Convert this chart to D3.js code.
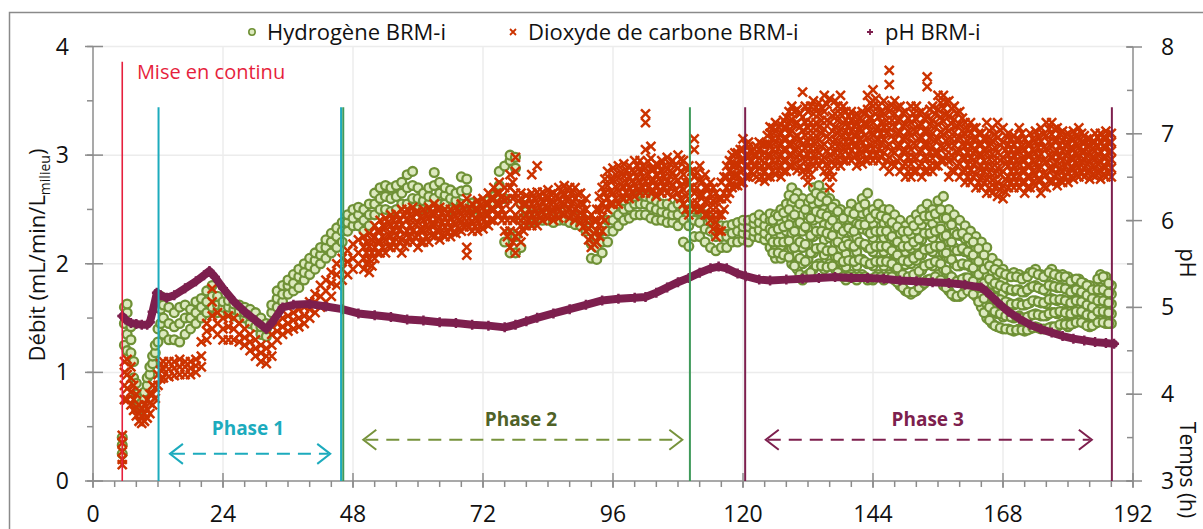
<!DOCTYPE html>
<html><head><meta charset="utf-8">
<script src="https://cdn.jsdelivr.net/npm/d3@7"></script>
<style>
body{margin:0;background:#fff}
svg{display:block}
text{font-family:"Open Sans",sans-serif}
</style>
</head><body>
<svg id="chart" width="1203" height="529"></svg>
<script>
// ---------- DATA ----------
const xTickValues = [0,24,48,72,96,120,144,168,192];
const yLeftTickValues = [0,1,2,3,4];
const yRightTickValues = [3,4,5,6,7,8];
const seriesNames = ["Hydrogène BRM-i","Dioxyde de carbone BRM-i","pH BRM-i"];
const leftTitle = "Débit (mL/min/L";
const leftTitleSub = "milieu";
const rightTitle = "pH";
const xTitle = "Temps (h)";

// [time (h), flow values read at that time ...]
const h2Rows = [
[5.4,0.25,0.33,0.4],[5.8,1.25,1.45,1.6],[6.3,1.2,1.35,1.55,1.63],[7,1.18,1.3,1.42],[7.5,0.95,1.1],
[8,0.8,0.9],[8.5,0.7,0.76],[9,0.66,0.72],[9.5,0.76,0.82],[10,0.88,0.95],[10.5,0.98,1.05],[11,1.08,1.15],
[11.5,1.18,1.25],[12,1.28,1.4],[12.5,1.45,1.58,1.7],[13,1.35,1.5,1.62],[14,1.3,1.45,1.6],[15,1.3,1.42,1.55],
[16,1.28,1.45,1.6],[17,1.35,1.5,1.62],[18,1.4,1.5,1.58],[19,1.45,1.55,1.65],[20,1.5,1.6,1.68],[21,1.55,1.65,1.75],
[22,1.6,1.7,1.8],[23,1.55,1.62,1.7],[24,1.55,1.6,1.65],[25,1.55,1.6,1.66],[26,1.52,1.58,1.63],[27,1.5,1.56,1.62],
[28,1.5,1.55,1.6],[29,1.45,1.52,1.58],[30,1.42,1.5,1.55],[31,1.35,1.42,1.5],[32,1.33,1.4,1.45],[33,1.45,1.55,1.62],
[34,1.6,1.68,1.75],[35,1.65,1.72,1.8],[36,1.72,1.8,1.85],[37,1.75,1.82,1.9],[38,1.78,1.88,1.95],[39,1.85,1.92,2.0],
[40,1.9,1.98,2.05],[41,1.95,2.03,2.1],[42,2.0,2.08,2.15],[43,2.05,2.15,2.22],[44,2.1,2.2,2.28],[45,2.15,2.25,2.33],
[46,2.2,2.3,2.38],[47,2.3,2.38,2.45],[48,2.35,2.42,2.5],[49,2.35,2.45,2.52],[50,2.3,2.4,2.5],[51,2.35,2.45,2.55],
[52,2.45,2.55,2.65],[53,2.5,2.6,2.7],[54,2.5,2.62,2.72],[55,2.48,2.6,2.7],[56,2.5,2.62,2.72],[57,2.55,2.65,2.75],
[58,2.55,2.7,2.82],[59,2.6,2.72,2.85],[60,2.5,2.6,2.7],[61,2.5,2.58,2.65],[62,2.55,2.62,2.7],[63,2.6,2.72,2.84],
[64,2.55,2.65,2.75],[65,2.55,2.63,2.7],[66,2.5,2.6,2.68],[67,2.5,2.58,2.65],[68,2.55,2.67,2.8],[69,2.55,2.68,2.78],
[70,2.5,2.56],[71,2.5,2.55],[72,2.5,2.56],[73,2.52,2.58],[74,2.55,2.62],[75,2.6,2.72,2.85],[76,2.2,2.6,2.9],
[77,2.1,2.28,2.95,3.0],[78,2.1,2.25,2.88,2.98],[79,2.15,2.4,2.55],[80,2.4,2.48],[81,2.38,2.45],[82,2.4,2.46],
[83,2.4,2.46],[84,2.4,2.47],[85,2.38,2.45],[86,2.4,2.46],[87,2.4,2.48],[88,2.38,2.45],[89,2.36,2.44],[90,2.35,2.42],
[91,2.3,2.4],[92,2.05,2.18,2.3],[93,2.04,2.15,2.25],[94,2.1,2.2,2.3],[95,2.2,2.3,2.4],[96,2.3,2.4,2.5],
[97,2.35,2.45,2.55],[98,2.4,2.5,2.58],[99,2.42,2.52,2.6],[100,2.45,2.55,2.62],[101,2.45,2.55,2.65],[102,2.45,2.55,2.62],
[103,2.42,2.52,2.6],[104,2.4,2.5,2.58],[105,2.4,2.48,2.55],[106,2.38,2.46,2.55],[107,2.38,2.45,2.52],[108,2.35,2.45,2.55],
[109,2.2,2.4,2.5],[110,2.16,2.35,2.5],[111,2.25,2.4,2.5],[112,2.25,2.38,2.48],[113,2.2,2.32,2.45],[114,2.15,2.3,2.4],
[115,2.12,2.25,2.35],[116,2.15,2.25,2.35],[117,2.15,2.25,2.35],[118,2.2,2.28,2.36],[119,2.2,2.3,2.38],
[120,2.22,2.28,2.34,2.4],[121,2.2,2.27,2.34,2.4],[122,2.25,2.3,2.37,2.42],[123,2.24,2.31,2.38,2.45],[124,2.22,2.28,2.35,2.42],
[125,2.15,2.24,2.32,2.4,2.46],[126,2.05,2.15,2.25,2.35,2.45],[127,2.05,2.15,2.26,2.38,2.5],[128,2.1,2.2,2.3,2.42,2.55],
[129,2.0,2.14,2.28,2.42,2.56,2.7],[130,1.95,2.08,2.22,2.36,2.5,2.65],[131,1.85,2.0,2.15,2.3,2.45,2.6],[132,1.9,2.04,2.18,2.32,2.45,2.56],
[133,1.95,2.1,2.25,2.4,2.55,2.7],[134,2.0,2.14,2.28,2.42,2.57,2.72],[135,1.95,2.08,2.22,2.36,2.5,2.65],[136,2.0,2.12,2.24,2.36,2.48,2.6],
[137,1.95,2.07,2.19,2.31,2.43,2.55],[138,1.9,2.02,2.14,2.26,2.38,2.5],[139,1.85,1.97,2.09,2.21,2.33,2.45],[140,1.9,2.03,2.16,2.29,2.42,2.55],
[141,1.85,1.98,2.11,2.24,2.37,2.5],[142,1.9,2.04,2.18,2.32,2.46,2.6],[143,1.85,2.0,2.15,2.3,2.47,2.65],[144,1.85,1.98,2.11,2.24,2.37,2.5],
[145,1.9,2.03,2.16,2.29,2.42,2.55],[146,1.85,1.98,2.11,2.24,2.37,2.5],[147,1.9,2.02,2.14,2.26,2.38,2.5],[148,1.85,1.97,2.09,2.21,2.33,2.45],
[149,1.8,1.92,2.04,2.16,2.28,2.4],[150,1.75,1.87,1.99,2.11,2.23,2.35],[151,1.72,1.86,2.0,2.14,2.27,2.4],[152,1.75,1.89,2.03,2.17,2.31,2.45],
[153,1.8,1.94,2.08,2.22,2.36,2.5],[154,1.85,1.99,2.13,2.27,2.41,2.55],[155,1.85,1.98,2.11,2.24,2.37,2.5],[156,1.9,2.03,2.16,2.29,2.42,2.58],
[157,1.8,1.95,2.1,2.25,2.42,2.62],[158,1.75,1.9,2.05,2.2,2.35,2.5],[159,1.7,1.85,2.0,2.15,2.3,2.45],[160,1.7,1.84,1.98,2.12,2.26,2.4],
[161,1.75,1.87,1.99,2.11,2.23,2.35],[162,1.75,1.86,1.97,2.08,2.19,2.3],[163,1.7,1.81,1.92,2.03,2.14,2.25],[164,1.6,1.72,1.84,1.96,2.08,2.2],
[165,1.5,1.63,1.76,1.89,2.02,2.15],[166,1.45,1.57,1.69,1.81,1.93,2.05],[167,1.42,1.54,1.66,1.78,1.9,2.0],[168,1.4,1.51,1.62,1.73,1.84,1.95],
[169,1.4,1.52,1.64,1.76,1.9],[170,1.38,1.5,1.62,1.75,1.92],[171,1.4,1.52,1.64,1.76,1.9],[172,1.38,1.5,1.62,1.74,1.88],
[173,1.4,1.52,1.64,1.78,1.92],[174,1.42,1.54,1.66,1.8,1.95],[175,1.4,1.52,1.64,1.77,1.9],[176,1.4,1.52,1.63,1.75,1.88],
[177,1.42,1.55,1.68,1.8,1.95],[178,1.42,1.54,1.66,1.78,1.9],[179,1.45,1.56,1.67,1.78,1.9],[180,1.42,1.53,1.64,1.76,1.88],
[181,1.45,1.55,1.65,1.75,1.85],[182,1.48,1.58,1.68,1.77,1.86],[183,1.45,1.54,1.63,1.72,1.82],[184,1.42,1.52,1.61,1.7,1.8],
[185,1.45,1.53,1.61,1.68,1.76],[186,1.48,1.58,1.68,1.78,1.9],[187,1.45,1.55,1.65,1.75,1.88],[188,1.45,1.54,1.63,1.72,1.8]
];
// extra readings between the hours, phase 3
const h2RowsHalfHour = [
[125.5,2.1,2.2,2.3,2.4],[126.5,2.1,2.2,2.32,2.44],[127.5,2.08,2.2,2.34,2.47],[128.5,2.06,2.21,2.36,2.5,2.63],
[129.5,1.98,2.15,2.3,2.45,2.6],[130.5,1.9,2.05,2.2,2.38,2.55],[131.5,1.88,2.02,2.18,2.34,2.5],[132.5,1.92,2.1,2.26,2.42,2.6],
[133.5,1.98,2.14,2.3,2.48,2.65],[134.5,1.98,2.15,2.3,2.46,2.62],[135.5,1.97,2.12,2.28,2.44,2.58],[136.5,1.98,2.12,2.26,2.4,2.52],
[137.5,1.92,2.06,2.2,2.34,2.48],[138.5,1.88,2.02,2.16,2.3,2.42],[139.5,1.88,2.03,2.18,2.33,2.48],[140.5,1.88,2.02,2.16,2.3,2.46],
[141.5,1.88,2.04,2.2,2.36,2.52],[142.5,1.88,2.02,2.18,2.36,2.55],[143.5,1.86,2.0,2.14,2.28,2.42],[144.5,1.88,2.02,2.16,2.3,2.46],
[145.5,1.88,2.02,2.16,2.3,2.44],[146.5,1.88,2.02,2.16,2.3,2.42],[147.5,1.88,2.0,2.12,2.25,2.38],[148.5,1.83,1.96,2.08,2.2,2.34],
[149.5,1.78,1.9,2.03,2.16,2.3],[150.5,1.74,1.88,2.02,2.16,2.3],[151.5,1.74,1.9,2.05,2.2,2.35],[152.5,1.78,1.93,2.08,2.23,2.4],
[153.5,1.82,1.98,2.13,2.28,2.44],[154.5,1.86,2.0,2.14,2.28,2.44],[155.5,1.88,2.02,2.16,2.3,2.46],[156.5,1.85,2.0,2.16,2.32,2.5],
[157.5,1.78,1.94,2.1,2.26,2.42],[158.5,1.72,1.88,2.04,2.2,2.36],[159.5,1.7,1.84,1.98,2.12,2.27],[160.5,1.72,1.86,2.0,2.14,2.28],
[161.5,1.75,1.87,1.99,2.11,2.24],[162.5,1.72,1.84,1.96,2.08,2.2],[163.5,1.65,1.78,1.9,2.02,2.14],[164.5,1.55,1.68,1.82,1.95,2.08],
[165.5,1.48,1.6,1.73,1.86,1.98],[166.5,1.43,1.56,1.69,1.82,1.95],[167.5,1.41,1.54,1.67,1.8,1.92],[168.5,1.4,1.52,1.65,1.78,1.9],
[169.5,1.39,1.51,1.63,1.76,1.88],[170.5,1.39,1.51,1.63,1.76,1.88],[171.5,1.39,1.5,1.62,1.74,1.86],[172.5,1.39,1.51,1.63,1.76,1.88],
[173.5,1.41,1.53,1.66,1.79,1.92],[174.5,1.41,1.53,1.65,1.78,1.9],[175.5,1.4,1.52,1.64,1.76,1.88],[176.5,1.41,1.54,1.67,1.8,1.92],
[177.5,1.42,1.55,1.67,1.79,1.9],[178.5,1.44,1.56,1.67,1.78,1.88],[179.5,1.44,1.55,1.66,1.77,1.88],[180.5,1.44,1.54,1.64,1.74,1.84],
[181.5,1.46,1.56,1.66,1.76,1.86],[182.5,1.46,1.56,1.65,1.74,1.83],[183.5,1.43,1.53,1.62,1.71,1.8],[184.5,1.43,1.52,1.6,1.68,1.76],
[185.5,1.46,1.56,1.66,1.76,1.86],[186.5,1.46,1.56,1.66,1.76,1.88],[187.5,1.45,1.55,1.64,1.73,1.82]
];

const co2Rows = [
[5.4,0.15,0.2,0.27,0.35,0.42],[5.8,0.75,0.88,1.0,1.1],[6.3,0.75,0.85,0.98,1.12],[7,0.7,0.82,0.95,1.05],[7.5,0.65,0.75,0.88],
[8,0.6,0.68,0.8],[8.5,0.55,0.62,0.7],[9,0.53,0.6,0.67],[9.5,0.55,0.62,0.7],[10,0.58,0.66,0.75],[10.5,0.62,0.72,0.8],
[11,0.7,0.8,0.88],[11.5,0.76,0.86],[12,0.88,0.98],[12.5,0.94,1.02,1.08],[13,0.95,1.03,1.1],[14,0.96,1.03,1.1],
[15,0.97,1.04,1.1],[16,0.98,1.05,1.12],[17,0.98,1.05,1.1],[18,0.98,1.04,1.1],[19,1.0,1.06,1.12],[20,1.05,1.15,1.28],
[21,1.3,1.38,1.45],[22,1.4,1.52,1.65,1.77],[23,1.35,1.45,1.55],[24,1.3,1.4,1.5],[25,1.3,1.42,1.52],[26,1.3,1.4,1.5],
[27,1.28,1.35,1.45],[28,1.25,1.32,1.4],[29,1.2,1.28,1.35],[30,1.15,1.22,1.3],[31,1.1,1.18,1.25],[32,1.08,1.15,1.22],
[33,1.15,1.25,1.35],[34,1.3,1.38,1.45],[35,1.35,1.42,1.5],[36,1.38,1.45,1.52],[37,1.4,1.48,1.55],[38,1.42,1.5,1.58],
[39,1.45,1.52,1.6],[40,1.5,1.58,1.65],[41,1.55,1.65,1.72],[42,1.6,1.7,1.8],[43,1.65,1.75,1.85],[44,1.7,1.82,1.92],
[45,1.8,1.9,2.0],[46,1.85,1.95,2.05],[47,1.9,2.02,2.12],[48,1.95,2.05,2.18],[49,2.0,2.1,2.22],[50,1.95,2.05,2.15,2.25],
[51,1.92,2.04,2.16,2.28],[52,2.05,2.15,2.25,2.35],[53,2.1,2.2,2.3,2.4],[54,2.1,2.22,2.33,2.42],[55,2.15,2.25,2.35,2.45],
[56,2.15,2.26,2.36,2.46],[57,2.1,2.22,2.36,2.5],[58,2.2,2.3,2.4,2.5],[59,2.2,2.3,2.42,2.52],[60,2.15,2.27,2.38,2.48],
[61,2.2,2.3,2.4,2.5],[62,2.2,2.32,2.42,2.52],[63,2.25,2.35,2.45,2.55],[64,2.22,2.33,2.43,2.52],[65,2.25,2.34,2.42,2.5],
[66,2.25,2.33,2.42,2.5],[67,2.28,2.36,2.44,2.52],[68,2.3,2.38,2.46,2.55],[69,2.08,2.15,2.35,2.48,2.6],[70,2.3,2.38,2.46,2.55],
[71,2.3,2.4,2.5,2.58],[72,2.32,2.42,2.52,2.6],[73,2.35,2.45,2.55,2.65],[74,2.4,2.5,2.6,2.7],[75,2.45,2.55,2.65,2.75],
[76,2.3,2.45,2.58,2.7],[77,2.15,2.3,2.5,2.7,2.82],[78,2.1,2.25,2.45,2.65,2.85,2.98],[79,2.2,2.35,2.5,2.65],[80,2.35,2.45,2.55,2.63],
[81,2.35,2.45,2.55,2.65,2.82],[82,2.35,2.46,2.56,2.66,2.9],[83,2.4,2.48,2.57,2.66],[84,2.42,2.51,2.6,2.68],[85,2.4,2.49,2.57,2.65],
[86,2.42,2.51,2.6,2.7],[87,2.45,2.54,2.63,2.72],[88,2.42,2.51,2.6,2.7],[89,2.4,2.5,2.6,2.7],[90,2.38,2.47,2.56,2.65],
[91,2.3,2.4,2.5,2.6],[92,2.15,2.25,2.35,2.45],[93,2.2,2.3,2.4,2.5],[94,2.3,2.43,2.56,2.7],[95,2.5,2.6,2.72,2.85],
[96,2.55,2.65,2.77,2.88],[97,2.55,2.67,2.79,2.9],[98,2.6,2.7,2.81,2.92],[99,2.6,2.7,2.8,2.9],[100,2.62,2.73,2.84,2.95],
[101,2.65,2.75,2.85,2.95],[102,2.65,2.76,2.88,3.05,3.3,3.38],[103,2.65,2.76,2.87,2.97,3.08],[104,2.62,2.72,2.82,2.92],
[105,2.65,2.75,2.85,2.95],[106,2.65,2.76,2.87,2.98],[107,2.62,2.73,2.84,2.95],[108,2.65,2.77,2.88,3.0],[109,2.55,2.68,2.82,2.95],
[110,2.45,2.6,2.75,2.9],[111,2.5,2.65,2.8,3.05,3.15],[112,2.5,2.63,2.77,2.9],[113,2.45,2.57,2.7,2.82],[114,2.4,2.52,2.64,2.75],
[115,2.25,2.38,2.52,2.65],[116,2.3,2.45,2.6,2.75],[117,2.6,2.7,2.8,2.9],[118,2.7,2.8,2.9,3.0],[119,2.72,2.82,2.92,3.02],
[120,2.75,2.86,2.95,3.05,3.15],[121,2.8,2.9,2.98,3.08,3.12],[122,2.82,2.9,3.0,3.06],[123,2.78,2.88,2.97,3.05,3.12],
[124,2.76,2.85,2.93,3.02,3.1],[125,2.8,2.9,3.0,3.1,3.2,3.26],[126,2.82,2.92,3.02,3.12,3.22,3.3],[127,2.8,2.9,3.0,3.1,3.2,3.28],
[128,2.85,2.95,3.05,3.15,3.25,3.35],[129,2.9,3.0,3.1,3.22,3.33,3.45],[130,2.86,2.98,3.08,3.18,3.3,3.42],[131,2.85,2.97,3.1,3.22,3.35,3.58],
[132,2.75,2.88,3.0,3.12,3.25,3.4],[133,2.9,3.0,3.12,3.25,3.38,3.5],[134,2.9,3.02,3.14,3.26,3.38,3.48],[135,2.85,2.98,3.1,3.24,3.4,3.55],
[136,2.7,2.86,3.0,3.15,3.3,3.52],[137,2.9,3.02,3.14,3.26,3.38,3.5],[138,2.9,3.02,3.12,3.24,3.38,3.55],[139,2.95,3.04,3.12,3.22,3.32,3.4],
[140,2.95,3.04,3.13,3.22,3.32,3.4],[141,2.9,3.0,3.1,3.2,3.3,3.38],[142,2.92,3.02,3.12,3.22,3.32,3.4],[143,2.95,3.05,3.16,3.28,3.42,3.55],
[144,2.95,3.06,3.18,3.3,3.45,3.6],[145,2.95,3.05,3.15,3.25,3.35,3.45],[146,2.9,3.02,3.14,3.26,3.38,3.5],[147,2.85,2.98,3.1,3.25,3.4,3.65,3.78],
[148,2.9,3.02,3.14,3.26,3.38,3.5],[149,2.85,2.97,3.09,3.21,3.33,3.45],[150,2.8,2.92,3.04,3.16,3.28,3.4],[151,2.8,2.92,3.05,3.18,3.3,3.45],
[152,2.85,2.97,3.09,3.21,3.33,3.45],[153,2.8,2.92,3.04,3.16,3.28,3.4],[154,2.85,2.97,3.1,3.22,3.35,3.63,3.72],[155,2.85,2.97,3.08,3.2,3.32,3.45],
[156,2.9,3.02,3.15,3.28,3.42,3.55],[157,2.95,3.07,3.19,3.31,3.43,3.55],[158,2.8,2.94,3.08,3.22,3.36,3.5],[159,2.85,2.97,3.09,3.21,3.33,3.45],
[160,2.8,2.92,3.04,3.16,3.28,3.4],[161,2.75,2.86,2.97,3.08,3.19,3.3],[162,2.75,2.86,2.97,3.08,3.2,3.3],[163,2.7,2.82,2.94,3.05,3.16,3.25],
[164,2.7,2.8,2.9,3.0,3.1,3.2],[165,2.65,2.78,2.9,3.02,3.15,3.3],[166,2.65,2.77,2.89,3.01,3.13,3.25],[167,2.62,2.75,2.88,3.02,3.16,3.3],
[168,2.6,2.72,2.85,2.98,3.12,3.25],[169,2.7,2.8,2.9,3.0,3.1,3.2],[170,2.7,2.8,2.9,3.0,3.1,3.18],[171,2.7,2.81,2.92,3.03,3.14,3.25],
[172,2.65,2.75,2.85,2.95,3.05,3.15],[173,2.7,2.8,2.9,3.0,3.1,3.2],[174,2.72,2.82,2.92,3.02,3.12,3.22],[175,2.65,2.77,2.89,3.01,3.13,3.25],
[176,2.7,2.82,2.94,3.06,3.18,3.3],[177,2.75,2.86,2.97,3.08,3.19,3.3],[178,2.72,2.83,2.94,3.04,3.14,3.25],[179,2.75,2.85,2.95,3.04,3.13,3.22],
[180,2.75,2.84,2.93,3.02,3.11,3.2],[181,2.78,2.87,2.96,3.05,3.14,3.22],[182,2.8,2.89,2.98,3.07,3.16,3.25],[183,2.8,2.88,2.96,3.04,3.11,3.18],
[184,2.78,2.86,2.94,3.02,3.09,3.15],[185,2.8,2.88,2.96,3.04,3.12,3.2],[186,2.78,2.86,2.94,3.03,3.12,3.2],[187,2.8,2.89,2.98,3.07,3.15,3.22],
[188,2.8,2.88,2.96,3.04,3.12,3.2]
];
// extra readings between the hours, phases 2 and 3
const co2RowsHalfHour = [
[50.5,2.0,2.1,2.2],[51.5,1.98,2.1,2.22],[52.5,2.1,2.2,2.3],[53.5,2.15,2.25,2.35],[54.5,2.16,2.27,2.38],[55.5,2.2,2.3,2.4],
[56.5,2.2,2.31,2.41],[57.5,2.16,2.28,2.44],[58.5,2.25,2.35,2.45],[59.5,2.24,2.36,2.47],[60.5,2.2,2.32,2.43],[61.5,2.25,2.35,2.45],
[62.5,2.26,2.37,2.47],[63.5,2.3,2.4,2.5],[64.5,2.27,2.38,2.47],[65.5,2.29,2.38,2.46],[66.5,2.29,2.38,2.46],[67.5,2.32,2.4,2.48],
[68.5,2.34,2.42,2.5],[69.5,2.34,2.42,2.51],[70.5,2.34,2.42,2.5],[71.5,2.35,2.45,2.54],[72.5,2.37,2.47,2.56],[73.5,2.4,2.5,2.6],
[74.5,2.45,2.55,2.65],[75.5,2.4,2.5,2.62],[76.5,2.25,2.4,2.6],[77.5,2.2,2.4,2.6,2.75],[78.5,2.28,2.42,2.58],[79.5,2.3,2.42,2.55],
[80.5,2.4,2.5,2.6],[81.5,2.4,2.5,2.6],[82.5,2.42,2.52,2.62],[83.5,2.44,2.53,2.62],[84.5,2.46,2.55,2.64],[85.5,2.45,2.54,2.63],
[86.5,2.46,2.56,2.66],[87.5,2.48,2.58,2.68],[88.5,2.46,2.56,2.66],[89.5,2.44,2.54,2.64],[90.5,2.34,2.45,2.55],[91.5,2.22,2.32,2.42],
[92.5,2.18,2.28,2.4],[93.5,2.25,2.36,2.5,2.62],[94.5,2.4,2.52,2.65,2.78],[95.5,2.55,2.66,2.78],[96.5,2.6,2.71,2.82],[97.5,2.61,2.73,2.84],
[98.5,2.65,2.75,2.86],[99.5,2.66,2.76,2.86],[100.5,2.68,2.79,2.9],[101.5,2.7,2.8,2.9],[102.5,2.7,2.82,2.94],[103.5,2.67,2.77,2.87],
[104.5,2.67,2.78,2.9],[105.5,2.7,2.8,2.9],[106.5,2.7,2.81,2.92],[107.5,2.68,2.79,2.9],[108.5,2.6,2.72,2.85,2.96],[109.5,2.5,2.62,2.75,2.88],
[110.5,2.55,2.7,2.85],[111.5,2.56,2.7,2.84],[112.5,2.5,2.63,2.76],[113.5,2.45,2.58,2.7],[114.5,2.32,2.45,2.58,2.7],[115.5,2.3,2.45,2.6],
[116.5,2.5,2.65,2.8],[117.5,2.65,2.75,2.85,2.95],[118.5,2.72,2.82,2.92,3.02],[119.5,2.75,2.85,2.95,3.05],[120.5,2.8,2.9,3.0,3.1],
[121.5,2.85,2.94,3.03],[122.5,2.8,2.9,3.0,3.08],[123.5,2.8,2.9,3.0,3.1],[124.5,2.8,2.9,3.0,3.1,3.18],[125.5,2.85,2.95,3.05,3.15,3.25],
[126.5,2.86,2.96,3.06,3.16,3.26],[127.5,2.85,2.95,3.05,3.15,3.25,3.32],[128.5,2.9,3.0,3.1,3.2,3.3,3.4],[129.5,2.92,3.04,3.16,3.28,3.4],
[130.5,2.9,3.02,3.14,3.26,3.38],[131.5,2.82,2.94,3.06,3.18,3.3,3.45],[132.5,2.82,2.94,3.06,3.18,3.3,3.45],[133.5,2.95,3.06,3.18,3.3,3.44],
[134.5,2.95,3.08,3.2,3.32,3.44],[135.5,2.8,2.92,3.04,3.17,3.32,3.47],[136.5,2.8,2.94,3.08,3.22,3.36],[137.5,2.96,3.08,3.2,3.32,3.45],
[138.5,2.95,3.06,3.18,3.3,3.45],[139.5,3.0,3.08,3.17,3.27,3.36],[140.5,2.98,3.08,3.18,3.27,3.36],[141.5,2.95,3.05,3.15,3.25,3.34],
[142.5,2.96,3.07,3.18,3.28,3.38],[143.5,3.0,3.1,3.22,3.35,3.48],[144.5,3.0,3.12,3.24,3.38,3.52],[145.5,2.98,3.1,3.2,3.3,3.4],
[146.5,2.95,3.08,3.2,3.32,3.44],[147.5,2.92,3.04,3.18,3.32,3.46],[148.5,2.95,3.08,3.2,3.32,3.44],[149.5,2.9,3.03,3.15,3.27,3.39],
[150.5,2.85,2.98,3.1,3.22,3.34],[151.5,2.85,2.98,3.11,3.24,3.38],[152.5,2.9,3.03,3.15,3.27,3.39],[153.5,2.85,2.98,3.1,3.22,3.34],
[154.5,2.9,3.03,3.16,3.28,3.42],[155.5,2.9,3.02,3.14,3.26,3.38],[156.5,2.95,3.08,3.21,3.35,3.48],[157.5,3.0,3.13,3.25,3.37,3.49],
[158.5,2.86,3.0,3.15,3.29,3.43],[159.5,2.9,3.03,3.15,3.27,3.39],[160.5,2.85,2.98,3.1,3.22,3.34],[161.5,2.8,2.91,3.02,3.13,3.24],
[162.5,2.8,2.91,3.02,3.14,3.25],[163.5,2.75,2.88,3.0,3.1,3.2],[164.5,2.74,2.85,2.95,3.05,3.15],[165.5,2.7,2.84,2.96,3.08,3.22],
[166.5,2.7,2.83,2.95,3.07,3.19],[167.5,2.68,2.82,2.95,3.09,3.23],[168.5,2.66,2.78,2.92,3.05,3.18],[169.5,2.75,2.85,2.95,3.05,3.15],
[170.5,2.75,2.85,2.95,3.05,3.14],[171.5,2.75,2.86,2.97,3.08,3.2],[172.5,2.7,2.8,2.9,3.0,3.1],[173.5,2.75,2.85,2.95,3.05,3.15],
[174.5,2.77,2.87,2.97,3.07,3.17],[175.5,2.71,2.83,2.95,3.07,3.19],[176.5,2.76,2.88,3.0,3.12,3.24],[177.5,2.8,2.91,3.02,3.13,3.24],
[178.5,2.77,2.88,2.99,3.09,3.2],[179.5,2.8,2.9,3.0,3.09,3.18],[180.5,2.8,2.89,2.98,3.07,3.16],[181.5,2.82,2.92,3.01,3.1,3.18],
[182.5,2.84,2.94,3.03,3.12,3.2],[183.5,2.84,2.92,3.0,3.08,3.15],[184.5,2.82,2.9,2.98,3.06,3.12],[185.5,2.84,2.92,3.0,3.08,3.16],
[186.5,2.82,2.9,2.98,3.08,3.16],[187.5,2.84,2.93,3.02,3.11,3.19]
];

// [time (h), pH]
const phRows = [
[5.4,4.9],[6,4.86],[7,4.82],[8,4.81],[9,4.8],[10,4.8],[10.5,4.83],[11,4.95],[11.8,5.17],[12.5,5.14],[13.6,5.11],
[15,5.14],[17,5.22],[19,5.3],[20.5,5.37],[21.5,5.42],[22.5,5.35],[24,5.22],[26,5.07],[28,4.95],[30,4.85],[32,4.75],
[33,4.82],[35,5.0],[37,5.03],[40,5.04],[43,5.01],[46,4.98],[49,4.93],[52,4.91],[55,4.89],[58,4.86],[61,4.85],[64,4.83],
[67,4.82],[70,4.8],[73,4.79],[76,4.77],[78,4.8],[80,4.84],[82,4.88],[85,4.93],[88,4.98],[91,5.03],[94,5.08],[97,5.1],
[100,5.11],[102,5.12],[104,5.17],[106,5.23],[108,5.29],[110,5.34],[112,5.4],[114,5.45],[115.5,5.47],[117,5.45],[119,5.39],
[120.5,5.36],[123,5.32],[125,5.31],[128,5.32],[131,5.33],[134,5.34],[137,5.35],[140,5.34],[143,5.34],[146,5.33],[149,5.31],
[152,5.3],[155,5.29],[158,5.28],[161,5.26],[164,5.23],[165,5.18],[167,5.06],[169,4.95],[171,4.87],[173,4.8],[175,4.75],
[177,4.71],[179,4.67],[181,4.64],[183,4.62],[185,4.6],[187,4.59],[188.5,4.58]
];

// event lines: time (h) and top value (left axis units)
const eventLines = [
  {name:"Mise en continu", time:5.4, top:3.86, kind:"start"},
  {name:"début phase 1", time:12.1, top:3.44, kind:"p1"},
  {name:"fin phase 1", time:45.8, top:3.44, kind:"p1"},
  {name:"début phase 2", time:46.2, top:3.44, kind:"p2"},
  {name:"fin phase 2", time:110.2, top:3.44, kind:"p2"},
  {name:"début phase 3", time:120.4, top:3.44, kind:"p3"},
  {name:"fin phase 3", time:188.1, top:3.44, kind:"p3"}
];
const startLabel = {text:"Mise en continu", time:8.1, value:3.7};
const phases = [
  {label:"Phase 1", from:14.2, to:43.8, level:0.25, labelAt:28.6, labelLevel:0.49, kind:"p1"},
  {label:"Phase 2", from:49.9, to:108.8, level:0.38, labelAt:79, labelLevel:0.57, kind:"p2"},
  {label:"Phase 3", from:124.2, to:184.4, level:0.38, labelAt:154.1, labelLevel:0.57, kind:"p3"}
];

// ---------- STYLE ----------
const C = {
  h2Stroke:"#6f9136", h2Fill:"#dce9be", co2:"#cc3300", ph:"#7d1f4e",
  start:"#e61f3d", p1:"#1cabbd", p2:"#77933c", p3:"#7d1f4e",
  p1text:"#1cabbd", p2text:"#4f6228", p3text:"#7d1f4e",
  axis:"#8c8c8c", grid:"#ececec", text:"#111"
};
const lineColor = {start:C.start, p1:C.p1, p2:"#3f9a5a", p3:C.p3};

// ---------- SCALES ----------
const svg = d3.select("#chart");
const x = d3.scaleLinear().domain([0,192]).range([93,1133]);
const yL = d3.scaleLinear().domain([0,4]).range([481,46.5]);
const yR = d3.scaleLinear().domain([3,8]).range([481,47]);

// frame
svg.append("path").attr("d","M9.5,540V12.5H1210").attr("fill","none").attr("stroke","#8a8a8a").attr("stroke-width",1.5);

// gridlines
svg.append("g").selectAll("line").data(yLeftTickValues.filter(d=>d>0)).join("line")
  .attr("x1",x(0)).attr("x2",x(192)).attr("y1",d=>yL(d)).attr("y2",d=>yL(d))
  .attr("stroke",C.grid).attr("stroke-width",1.5);
svg.append("g").selectAll("line").data(xTickValues.filter(d=>d>0&&d<192)).join("line")
  .attr("x1",d=>x(d)).attr("x2",d=>x(d)).attr("y1",yL(4)).attr("y2",yL(0))
  .attr("stroke",C.grid).attr("stroke-width",1.5);

// ---------- SERIES ----------
const toPts = rows => rows.flatMap(r => r.slice(1).map(v => ({t:r[0], v})));
const h2Pts = toPts(h2Rows.concat(h2RowsHalfHour));
const co2Pts = toPts(co2Rows.concat(co2RowsHalfHour));

svg.append("g").selectAll("circle").data(h2Pts).join("circle")
  .attr("cx",d=>x(d.t)).attr("cy",d=>yL(d.v)).attr("r",4.4)
  .attr("fill",C.h2Fill).attr("stroke",C.h2Stroke).attr("stroke-width",2.3);

const xMark = "M-4.5,-4.5L4.5,4.5M-4.5,4.5L4.5,-4.5";
svg.append("g").selectAll("path").data(co2Pts).join("path")
  .attr("transform",d=>`translate(${x(d.t)},${yL(d.v)})`).attr("d",xMark)
  .attr("stroke",C.co2).attr("stroke-width",2.5).attr("fill","none");

const phLine = d3.line().x(d=>x(d[0])).y(d=>yR(d[1]));
svg.append("path").datum(phRows).attr("d",phLine).attr("fill","none")
  .attr("stroke",C.ph).attr("stroke-width",8).attr("stroke-linejoin","round").attr("stroke-linecap","round");
const plusMark = "M-5,0H5M0,-5V5";
svg.append("g").selectAll("path").data(phRows).join("path")
  .attr("transform",d=>`translate(${x(d[0])},${yR(d[1])})`).attr("d",plusMark)
  .attr("stroke",C.ph).attr("stroke-width",2.5);

// ---------- AXES ----------
const ax = svg.append("g").attr("stroke",C.axis).attr("stroke-width",1.5);
ax.append("line").attr("x1",x(0)).attr("x2",x(192)).attr("y1",yL(0)).attr("y2",yL(0));
ax.selectAll(".xmin").data(d3.range(0,193,4)).join("line")
  .attr("x1",d=>x(d)).attr("x2",d=>x(d)).attr("y1",yL(0)).attr("y2",yL(0)+6);
ax.selectAll(".xmaj").data(xTickValues).join("line")
  .attr("x1",d=>x(d)).attr("x2",d=>x(d)).attr("y1",yL(0)-8).attr("y2",yL(0)+7);
ax.append("line").attr("x1",x(0)).attr("x2",x(0)).attr("y1",yL(0)).attr("y2",yL(4));
ax.selectAll(".lmin").data(d3.range(0,4.01,0.5)).join("line")
  .attr("x1",x(0)-6).attr("x2",x(0)).attr("y1",d=>yL(d)).attr("y2",d=>yL(d));
ax.selectAll(".lmaj").data(yLeftTickValues).join("line")
  .attr("x1",x(0)-8).attr("x2",x(0)+10).attr("y1",d=>yL(d)).attr("y2",d=>yL(d));
ax.append("line").attr("x1",x(192)).attr("x2",x(192)).attr("y1",yR(3)).attr("y2",yR(8));
ax.selectAll(".rmin").data(d3.range(3,8.01,0.5)).join("line")
  .attr("x1",x(192)-6).attr("x2",x(192)).attr("y1",d=>yR(d)).attr("y2",d=>yR(d));
ax.selectAll(".rmaj").data(yRightTickValues).join("line")
  .attr("x1",x(192)-7).attr("x2",x(192)+9).attr("y1",d=>yR(d)).attr("y2",d=>yR(d));

const lab = svg.append("g").attr("fill",C.text).attr("font-size",23);
lab.selectAll(".xl").data(xTickValues).join("text")
  .attr("x",d=>x(d)).attr("y",522).attr("text-anchor","middle").text(d=>d);
lab.selectAll(".ll").data(yLeftTickValues).join("text")
  .attr("x",69).attr("y",d=>yL(d)+8).attr("text-anchor","end").text(d=>d);
lab.selectAll(".rl").data(yRightTickValues).join("text")
  .attr("x",1161).attr("y",d=>yR(d)+8).attr("text-anchor","start").text(d=>d);

// titles
const lt = svg.append("text").attr("transform","translate(45,255) rotate(-90)")
  .attr("text-anchor","middle").attr("font-size",22).attr("fill",C.text);
lt.append("tspan").text(leftTitle);
lt.append("tspan").attr("font-size",14).attr("dy",5).text(leftTitleSub);
lt.append("tspan").attr("dy",-5).text(")");
svg.append("text").attr("transform","translate(1180,263) rotate(90)").attr("text-anchor","middle")
  .attr("font-size",22).attr("fill",C.text).text(rightTitle);
svg.append("text").attr("transform","translate(1180,470) rotate(90)").attr("text-anchor","middle")
  .attr("font-size",21).attr("fill",C.text).text(xTitle);

// ---------- ANNOTATIONS ----------
svg.append("g").selectAll("line").data(eventLines).join("line")
  .attr("x1",d=>x(d.time)).attr("x2",d=>x(d.time)).attr("y1",d=>yL(d.top)).attr("y2",yL(0))
  .attr("stroke",d=>lineColor[d.kind]).attr("stroke-width",d=>d.kind==="start"?1.6:2);

svg.append("text").attr("x",x(startLabel.time)).attr("y",yL(startLabel.value))
  .attr("font-size",20).attr("fill",C.start).text(startLabel.text);

const pg = svg.append("g");
phases.forEach(p => {
  const col = C[p.kind], tcol = C[p.kind+"text"];
  const y0 = yL(p.level), xa = x(p.from), xb = x(p.to);
  pg.append("line").attr("x1",xa+2).attr("x2",xb-2).attr("y1",y0).attr("y2",y0)
    .attr("stroke",col).attr("stroke-width",2).attr("stroke-dasharray","13,8");
  pg.append("path").attr("d",`M${xa+13},${y0-10}L${xa},${y0}L${xa+13},${y0+10}`)
    .attr("fill","none").attr("stroke",col).attr("stroke-width",2);
  pg.append("path").attr("d",`M${xb-13},${y0-10}L${xb},${y0}L${xb-13},${y0+10}`)
    .attr("fill","none").attr("stroke",col).attr("stroke-width",2);
  pg.append("text").attr("x",x(p.labelAt)).attr("y",yL(p.labelLevel)+7)
    .attr("text-anchor","middle").attr("font-size",19).attr("font-weight","bold")
    .attr("fill",tcol).text(p.label);
});

// ---------- LEGEND ----------
const lg = svg.append("g").attr("font-size",22).attr("fill",C.text);
const legY = 32;
lg.append("circle").attr("cx",252).attr("cy",legY).attr("r",3.2)
  .attr("fill",C.h2Fill).attr("stroke",C.h2Stroke).attr("stroke-width",1.6);
lg.append("text").attr("x",267).attr("y",legY+8).text(seriesNames[0]);
lg.append("path").attr("transform",`translate(513,${legY})`).attr("d","M-3,-3L3,3M-3,3L3,-3")
  .attr("stroke",C.co2).attr("stroke-width",1.8);
lg.append("text").attr("x",528).attr("y",legY+8).text(seriesNames[1]);
lg.append("path").attr("transform",`translate(870,${legY})`).attr("d","M-3,0H3M0,-3V3")
  .attr("stroke",C.ph).attr("stroke-width",1.8);
lg.append("text").attr("x",885).attr("y",legY+8).text(seriesNames[2]);
</script>
</body></html>
